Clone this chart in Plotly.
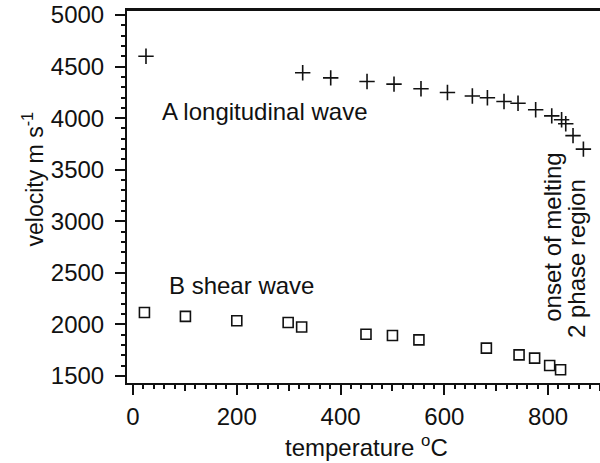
import plotly.graph_objects as go

# Longitudinal wave (A) : temperature (°C), velocity (m/s)
long_T = [25, 327, 381, 451, 503, 555, 606, 654, 683, 715, 742, 776, 807, 826, 834, 848, 868]
long_v = [4600, 4440, 4390, 4355, 4330, 4285, 4248, 4215, 4198, 4162, 4144, 4082, 4022, 3985, 3945, 3830, 3700]

# Shear wave (B)
shear_T = [22, 101, 200, 299, 325, 449, 500, 551, 681, 744, 774, 803, 824]
shear_v = [2115, 2078, 2035, 2018, 1975, 1905, 1892, 1850, 1770, 1705, 1673, 1602, 1560]

x_ticks = [0, 200, 400, 600, 800]
y_ticks = [1500, 2000, 2500, 3000, 3500, 4000, 4500, 5000]

FONT = "Liberation Sans, Arial, Helvetica, sans-serif"
INK = "#111111"

fig = go.Figure()
fig.add_trace(go.Scatter(
    x=long_T, y=long_v, mode="markers", showlegend=False,
    marker=dict(symbol="cross-thin", size=11, line=dict(color=INK, width=1.6)),
))
fig.add_trace(go.Scatter(
    x=shear_T, y=shear_v, mode="markers", showlegend=False,
    marker=dict(symbol="square-open", size=10, color=INK, line=dict(color=INK, width=1.6)),
))
# invisible trace to anchor the medium-tick overlay axis
fig.add_trace(go.Scatter(x=[0], y=[1500], xaxis="x2", mode="markers",
                         marker=dict(opacity=0), showlegend=False, hoverinfo="skip"))

fig.update_layout(
    width=600, height=463,
    margin=dict(l=127, r=0, t=10, b=80),
    paper_bgcolor="white", plot_bgcolor="white",
    font=dict(family=FONT, color=INK, size=22),
    xaxis=dict(
        range=[-11.6, 900], tickvals=x_ticks, ticks="outside", ticklen=10, tickwidth=2,
        tickcolor=INK, showline=True, linecolor=INK, linewidth=2, mirror=True,
        showgrid=False, zeroline=False, tickfont=dict(size=24, family=FONT),
        automargin=False, ticklabelstandoff=1, ticklabeloverflow="allow",
        minor=dict(dtick=20, tick0=0, ticks="outside", ticklen=4, tickwidth=1.5, tickcolor=INK),
    ),
    xaxis2=dict(
        range=[-11.6, 900], overlaying="x", anchor="y", side="bottom", dtick=100, tick0=0,
        ticks="outside", ticklen=7, tickwidth=1.5, tickcolor=INK, showticklabels=False,
        showline=False, showgrid=False, zeroline=False, automargin=False,
    ),
    yaxis=dict(
        range=[1432, 5048.5], tickvals=y_ticks, ticks="outside", ticklen=10, tickwidth=2,
        tickcolor=INK, showline=True, linecolor=INK, linewidth=2,
        showgrid=False, zeroline=False, tickfont=dict(size=24, family=FONT),
        automargin=False, ticklabelstandoff=6, ticklabeloverflow="allow",
        minor=dict(dtick=100, tick0=0, ticks="outside", ticklen=4, tickwidth=1.5, tickcolor=INK),
    ),
    shapes=[
        dict(type="line", xref="paper", yref="paper", x0=0, x1=1, y0=1, y1=1,
             line=dict(color=INK, width=2)),
    ],
    annotations=[
        dict(text="A longitudinal wave", x=52, y=4060, xref="x", yref="y",
             xanchor="left", yanchor="middle", showarrow=False, font=dict(size=24)),
        dict(text="B shear wave", x=65, y=2382, xref="x", yref="y",
             xanchor="left", yanchor="middle", showarrow=False, font=dict(size=24)),
        dict(text="onset of melting", x=809, y=2848, xref="x", yref="y", textangle=-90,
             xanchor="center", yanchor="middle", showarrow=False, font=dict(size=24)),
        dict(text="2 phase region", x=855, y=2640, xref="x", yref="y", textangle=-90,
             xanchor="center", yanchor="middle", showarrow=False, font=dict(size=24)),
        dict(text="velocity m s<sup>-1</sup>", x=-0.199, y=0.548, xref="paper", yref="paper",
             textangle=-90, xanchor="center", yanchor="middle", showarrow=False,
             font=dict(size=23)),
        dict(text="temperature <sup>o</sup>C", x=0.507, y=-0.169, xref="paper", yref="paper",
             xanchor="center", yanchor="middle", showarrow=False, font=dict(size=24)),
    ],
)

# remove the browser's default 8 px page margin so the 600x463 figure fills the window
fig.write_html("out.html", config={"displayModeBar": False},
               post_script="document.body.style.margin='0px';")
